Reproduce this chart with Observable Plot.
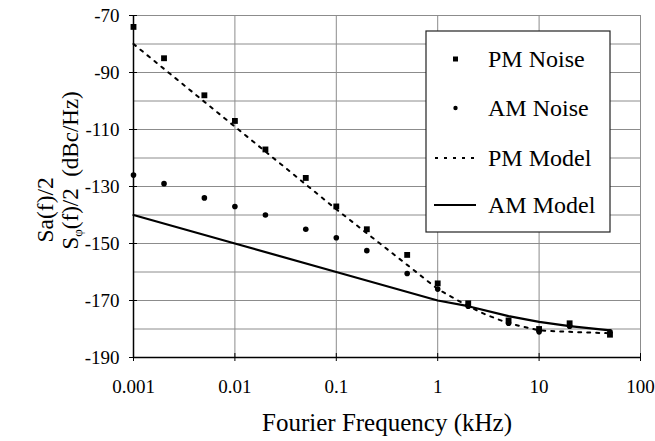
<!DOCTYPE html>
<html>
<head>
<meta charset="utf-8">
<script src="https://cdn.jsdelivr.net/npm/d3@7"></script>
<script src="https://cdn.jsdelivr.net/npm/@observablehq/plot@0.6"></script>
<style>
  html, body { margin: 0; padding: 0; background: #fff; }
  #chart { width: 655px; height: 441px; }
</style>
</head>
<body>
<div id="chart"></div>
<script>
// ---- data ----
const noiseFreq = [0.001, 0.002, 0.005, 0.01, 0.02, 0.05, 0.1, 0.2, 0.5, 1, 2, 5, 10, 20, 50];
const pmNoise   = [-74, -85, -98, -107, -117, -127, -137, -145, -154, -164, -171, -177, -180, -178, -182];
const amNoise   = [-126, -129, -134, -137, -140, -145, -148, -152.5, -160.5, -166, -172, -178, -181, -179, -181];

const pmModelFreq = [0.001, 0.01, 0.1, 0.5, 1, 2, 3, 5, 10, 20, 50];
const pmModel     = [-80, -109, -138, -157.5, -166, -172, -175, -178, -180.5, -181, -181.5];

const amModelFreq = [0.001, 0.01, 0.1, 1, 2, 5, 10, 20, 50];
const amModel     = [-140, -150, -160, -170, -172, -175.5, -177.5, -179, -180.5];

const xTicks = [0.001, 0.01, 0.1, 1, 10, 100];
const xTickLabels = ["0.001", "0.01", "0.1", "1", "10", "100"];
const yTicks = [-190, -170, -150, -130, -110, -90, -70];
const yTickLabels = ["-190", "-170", "-150", "-130", "-110", "-90", "-70"];
const yGridLines = [-180, -170, -160, -150, -140, -130, -120, -110, -100, -90, -80, -70];
const xGridLines = [0.01, 0.1, 1, 10, 100];

const xTitle = "Fourier Frequency (kHz)";
const yTitle1 = "Sa(f)/2";
const yTitle2 = ["S", "\u03C6", "(f)/2  (dBc/Hz)"];
const legendLabels = ["PM Noise", "AM Noise", "PM Model", "AM Model"];

// ---- tables ----
const pmNoiseData = noiseFreq.map((f, i) => ({f, v: pmNoise[i]}));
const amNoiseData = noiseFreq.map((f, i) => ({f, v: amNoise[i]}));
const pmModelData = pmModelFreq.map((f, i) => ({f, v: pmModel[i]}));
const amModelData = amModelFreq.map((f, i) => ({f, v: amModel[i]}));

const xLabel = d => xTickLabels[xTicks.indexOf(d)] ?? "";
const yLabel = d => yTickLabels[yTicks.indexOf(d)] ?? "";

const font = "Liberation Serif, Times New Roman, serif";
const gridColor = "#8c8c8c";

const chart = Plot.plot({
  width: 655,
  height: 441,
  marginLeft: 133,
  marginRight: 15,
  marginTop: 15,
  marginBottom: 84,
  x: {type: "log", domain: [0.001, 100]},
  y: {domain: [-190, -70]},
  style: {fontFamily: font, fontSize: "19px", color: "#000", background: "#fff", overflow: "visible"},
  marks: [
    Plot.ruleY(yGridLines, {stroke: gridColor, strokeWidth: 1}),
    Plot.ruleX(xGridLines, {stroke: gridColor, strokeWidth: 1}),
    Plot.line(amModelData, {x: "f", y: "v", stroke: "#000", strokeWidth: 2.2}),
    Plot.line(pmModelData, {x: "f", y: "v", stroke: "#000", strokeWidth: 2, strokeDasharray: "3,6"}),
    Plot.dot(pmNoiseData, {x: "f", y: "v", symbol: "square", r: 3.3, fill: "#000", stroke: null}),
    Plot.dot(amNoiseData, {x: "f", y: "v", symbol: "circle", r: 2.8, fill: "#000", stroke: null}),
    Plot.ruleX([0.001], {stroke: "#000", strokeWidth: 1.5}),
    Plot.ruleY([-190], {stroke: "#000", strokeWidth: 1.5}),
    Plot.axisX({ticks: xTicks, tickFormat: xLabel, tickSize: 4, tickPadding: 18, label: null, stroke: "#000", fontSize: 19}),
    Plot.axisX({ticks: xTicks, tickFormat: () => "", tickSize: -4, label: null, stroke: "#000"}),
    Plot.axisY({ticks: yTicks, tickFormat: yLabel, tickSize: 4, tickPadding: 10, label: null, stroke: "#000", fontSize: 19}),
    Plot.axisY({ticks: yTicks, tickFormat: () => "", tickSize: -4, label: null, stroke: "#000"}),
    Plot.text([xTitle], {frameAnchor: "bottom", dy: 65, fontSize: 25, lineAnchor: "middle", fill: "#000"}),
    Plot.text([yTitle1], {frameAnchor: "left", dx: -88, dy: 56, rotate: -90, textAnchor: "start", lineAnchor: "middle", fontSize: 23.5, fill: "#000"}),
    Plot.text([yTitle2.join("")], {frameAnchor: "left", dx: -63, dy: 63, rotate: -90, textAnchor: "start", lineAnchor: "middle", fontSize: 23, fill: "#000", className: "ytitle2"})
  ]
});

document.getElementById("chart").appendChild(chart);

// subscript phi in second y title line
const t2 = d3.select(chart).select(".ytitle2 text");
if (!t2.empty()) {
  t2.text(null);
  t2.append("tspan").text(yTitle2[0]);
  t2.append("tspan").attr("font-size", 13).attr("dy", "0.3em").text(yTitle2[1]);
  t2.append("tspan").attr("dy", "-0.18em").text(yTitle2[2]);
}

// ---- legend (drawn inside plot area) ----
const svg = d3.select(chart);
const lg = svg.append("g").attr("font-family", font).attr("font-size", 24).attr("text-anchor", "start");
lg.append("rect").attr("x", 426).attr("y", 31).attr("width", 184).attr("height", 201)
  .attr("fill", "#fff").attr("stroke", "#222").attr("stroke-width", 1.2);
const rowY = [59, 108, 158, 205];
lg.append("rect").attr("x", 453).attr("y", rowY[0] - 2.5).attr("width", 5).attr("height", 5).attr("fill", "#000");
lg.append("circle").attr("cx", 455.5).attr("cy", rowY[1]).attr("r", 2.2).attr("fill", "#000");
lg.append("line").attr("x1", 435).attr("x2", 476).attr("y1", rowY[2]).attr("y2", rowY[2])
  .attr("stroke", "#000").attr("stroke-width", 2).attr("stroke-dasharray", "3,6");
lg.append("line").attr("x1", 434).attr("x2", 476).attr("y1", rowY[3]).attr("y2", rowY[3])
  .attr("stroke", "#000").attr("stroke-width", 2.2);
legendLabels.forEach((s, i) => {
  lg.append("text").attr("x", 488).attr("y", rowY[i]).attr("dy", "0.35em").attr("fill", "#000").text(s);
});
</script>
</body>
</html>
